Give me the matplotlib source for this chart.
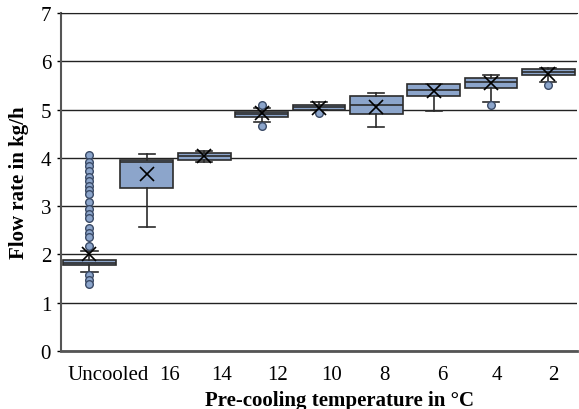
import matplotlib.pyplot as plt

plt.rcParams['font.family'] = ['Liberation Serif', 'DejaVu Serif']

# pre-cooling temperatures (categories)
labels = ['Uncooled', '16', '14', '12', '10', '8', '6', '4', '2']

# box statistics per category, flow rate in kg/h
q1 = [1.78, 3.38, 3.96, 4.85, 5.00, 4.90, 5.29, 5.44, 5.71]
med = [1.83, 3.91, 4.03, 4.90, 5.05, 5.09, 5.41, 5.58, 5.77]
q3 = [1.88, 3.95, 4.11, 4.94, 5.09, 5.27, 5.53, 5.65, 5.83]
whislo = [1.64, 2.56, 3.92, 4.74, 4.98, 4.64, 4.96, 5.16, 5.58]
whishi = [2.07, 4.07, 4.15, 5.03, 5.15, 5.34, 5.53, 5.71, 5.86]
means = [2.00, 3.67, 4.03, 4.93, 5.04, 5.06, 5.39, 5.54, 5.74]
fliers = [
    [4.05, 3.92, 3.84, 3.73, 3.61, 3.51, 3.42, 3.34, 3.26, 3.09, 2.93,
     2.84, 2.76, 2.54, 2.44, 2.35, 2.17, 1.57, 1.48, 1.38],
    [],
    [],
    [5.10, 4.65],
    [4.93],
    [],
    [],
    [5.09],
    [5.50],
]

# where the category names sit along the x axis
label_pos = [0.32, 1.40, 2.31, 3.28, 4.22, 5.15, 6.15, 7.10, 8.08]

stats = []
for i in range(len(labels)):
    stats.append(dict(q1=q1[i], med=med[i], q3=q3[i], whislo=whislo[i],
                      whishi=whishi[i], mean=means[i], fliers=fliers[i]))

fig = plt.figure(figsize=(5.79, 4.10), dpi=100)
ax = fig.add_axes([0.105, 0.1415, 0.8915, 0.8245])

ax.set_axisbelow(True)
ax.yaxis.grid(True, color='#222222', linewidth=1.0)

edge = '#2b2b2b'
ax.bxp(stats, positions=range(len(labels)), widths=0.92, patch_artist=True,
       showmeans=True,
       boxprops=dict(facecolor='#8ca5cb', edgecolor=edge, linewidth=1.2),
       medianprops=dict(color=edge, linewidth=1.2),
       whiskerprops=dict(color=edge, linewidth=1.2),
       capprops=dict(color=edge, linewidth=1.2),
       capwidths=0.28,
       meanprops=dict(marker='x', markeredgecolor='black', markersize=10,
                      markeredgewidth=1.2),
       flierprops=dict(marker='o', markerfacecolor='#8ca5cb',
                       markeredgecolor='#3a4a66', markersize=5.5,
                       markeredgewidth=1.0))

ax.set_xlim(-0.5, 8.5)
ax.set_ylim(0, 7)
ax.set_yticks(range(8))
ax.set_xticks(label_pos)
ax.set_xticklabels(labels)
ax.tick_params(axis='x', length=0, pad=10, labelsize=15)
ax.tick_params(axis='y', length=3, width=1, labelsize=15, pad=4)

ax.spines['right'].set_visible(False)
ax.spines['top'].set_color('#222222')
ax.spines['left'].set_color('#555555')
ax.spines['left'].set_linewidth(1.5)
ax.spines['bottom'].set_color('#555555')
ax.spines['bottom'].set_linewidth(2)

ax.set_xlabel('Pre-cooling temperature in °C', fontsize=15, fontweight='bold')
ax.xaxis.set_label_coords(0.54, -0.115)
ax.set_ylabel('Flow rate in kg/h', fontsize=15, fontweight='bold', labelpad=8)

fig.savefig('out.png', dpi=100)
